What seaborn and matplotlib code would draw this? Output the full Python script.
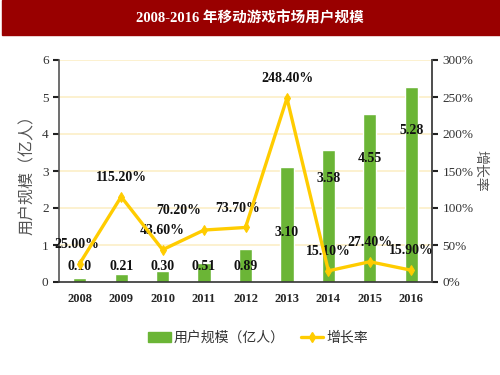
import numpy as np
import pandas as pd
import matplotlib
matplotlib.use('Agg')
import matplotlib.pyplot as plt
import seaborn as sns
from matplotlib.patches import Patch, Rectangle
from matplotlib.lines import Line2D

# chart data
years = ['2008', '2009', '2010', '2011', '2012', '2013', '2014', '2015', '2016']
users = [0.10, 0.21, 0.30, 0.51, 0.89, 3.10, 3.58, 4.55, 5.28]
growth = [25.00, 115.20, 43.60, 70.20, 73.70, 248.40, 15.10, 27.40, 15.90]
# where the bar value labels sit (left axis units), as in the original
bar_label_y = [0.43, 0.43, 0.43, 0.43, 0.43, 1.35, 2.8, 3.35, 4.1]
# horizontal shift of the growth labels, in points
growth_label_dx = [-2, 0, 0, -18, -6, 0, 0, 0, 0]

sns.set_theme(style='white')
plt.rcParams['font.family'] = ['Liberation Serif', 'Noto Sans CJK SC']
plt.rcParams['axes.unicode_minus'] = False

green = '#6BB536'
gold = '#FFCC00'
grid_c = '#FCEFC7'
cjk = ['Noto Sans CJK SC', 'DejaVu Sans']

df = pd.DataFrame({'year': years, 'users': users, 'growth': growth})
df['pos'] = np.arange(len(years))

fig = plt.figure(figsize=(5, 3.75), dpi=100)
# title banner
fig.patches.append(Rectangle((0.004, 1 - 35 / 375), 0.996, 35 / 375,
                             transform=fig.transFigure, color='#990000', zorder=0))
fig.text(0.5, 1 - 18 / 375, '2008-2016 年移动游戏市场用户规模', color='white',
         ha='center', va='center', fontsize=10.5, fontweight='bold',
         family=['Liberation Serif', 'Noto Sans CJK SC'])

ax = fig.add_axes([0.118, 0.248, 0.746, 0.592])
sns.barplot(data=df, x='pos', y='users', color=green, width=0.32,
            saturation=1, ax=ax, native_scale=True)
ax.set_xlim(-0.5, 8.5)
ax.set_ylim(0, 6)
ax.set_yticks(range(0, 7))
for y in range(1, 7):
    ax.axhline(y, color=grid_c, lw=1.2, zorder=0)
ax.set_axisbelow(True)

ax.set_xticks(range(len(years)))
ax.set_xticklabels(years, fontweight='bold', fontsize=9)
ax.set_xticks(np.arange(-0.5, 9, 1), minor=True)
ax.tick_params(axis='x', which='major', length=0, pad=8)
ax.tick_params(axis='x', which='minor', length=4, width=1, color='#333333', direction='out')
ax.tick_params(axis='y', length=4, width=1.5, color='#222222', labelsize=9.5,
               labelcolor='#333333', direction='out', left=True)
ax.set_xlabel('')
ax.set_ylabel('用户规模（亿人）', family=cjk, fontsize=11.5, color='#555555', labelpad=4)
ax.spines['top'].set_visible(False)
ax.spines['left'].set_color('#555555')
ax.spines['bottom'].set_color('#333333')
ax.spines['left'].set_linewidth(1.2)
ax.spines['bottom'].set_linewidth(1.2)

for i, v in enumerate(users):
    ax.text(i, bar_label_y[i], f'{v:.2f}', ha='center', va='center',
            fontsize=10, fontweight='bold', color='#111111', zorder=5)

ax2 = ax.twinx()
sns.lineplot(data=df, x='pos', y='growth', color=gold, lw=2.4, marker='d',
             markersize=5.5, markeredgecolor=gold, ax=ax2, zorder=4)
ax2.set_xlim(-0.5, 8.5)
ax2.set_ylim(0, 300)
ax2.set_yticks(range(0, 301, 50))
ax2.set_yticklabels([f'{t}%' for t in range(0, 301, 50)])
ax2.tick_params(axis='y', length=4, width=1.5, color='#222222', labelsize=9.5,
                labelcolor='#333333', direction='out', right=True)
ax2.set_ylabel('增长率', family=cjk, fontsize=10, color='#555555', rotation=270,
               labelpad=10)
ax2.set_xlabel('')
ax2.spines['top'].set_visible(False)
ax2.spines['left'].set_visible(False)
ax2.spines['bottom'].set_visible(False)
ax2.spines['right'].set_color('#555555')
ax2.spines['right'].set_linewidth(1.2)

for i, v in enumerate(growth):
    ax2.annotate(f'{v:.2f}%', (i, v), xytext=(growth_label_dx[i], 14),
                 textcoords='offset points', ha='center', va='center',
                 fontsize=10, fontweight='bold', color='#111111')

handles = [Patch(facecolor=green, edgecolor=green),
           Line2D([], [], color=gold, lw=2.4, marker='d', markersize=5)]
fig.legend(handles, ['用户规模（亿人）', '增长率'], loc='center',
           bbox_to_anchor=(0.516, 0.1), ncol=2, frameon=False,
           prop={'family': cjk, 'size': 10}, labelcolor='#333333',
           handlelength=1.6, handletextpad=0.2, columnspacing=1.2)

fig.savefig('out.png', dpi=100)
